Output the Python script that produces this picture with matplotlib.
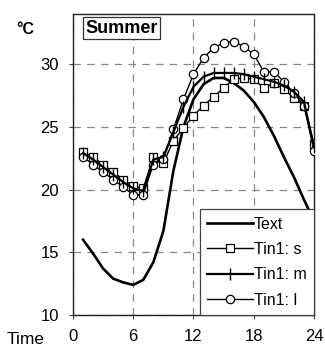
import matplotlib
matplotlib.use('Agg')
import matplotlib.pyplot as plt

plt.rcParams['font.family'] = ['Liberation Sans', 'DejaVu Sans']

# hourly temperatures, summer day
hours = list(range(1, 25))
t_ext = [16.0, 14.9, 13.7, 12.9, 12.6, 12.4, 12.8, 14.2, 16.7, 21.5, 25.0, 27.2,
         28.4, 28.9, 28.9, 28.5, 27.9, 27.0, 25.8, 24.3, 22.6, 21.0, 19.2, 17.5]
tin_s = [23.0, 22.6, 22.0, 21.4, 20.8, 20.3, 20.1, 22.6, 22.1, 23.9, 24.9, 25.9,
         26.7, 27.4, 28.1, 28.8, 28.9, 28.8, 28.1, 28.5, 28.0, 27.3, 26.7, 23.6]
tin_m = [22.9, 22.4, 21.8, 21.2, 20.6, 20.1, 19.9, 22.4, 22.6, 24.6, 26.6, 28.2,
         29.0, 29.3, 29.3, 29.3, 29.2, 29.0, 28.8, 28.6, 28.3, 27.8, 27.0, 23.4]
tin_l = [22.6, 22.0, 21.4, 20.8, 20.2, 19.6, 19.6, 22.0, 22.4, 24.8, 27.2, 29.2,
         30.5, 31.3, 31.7, 31.8, 31.4, 30.8, 29.4, 29.4, 28.6, 27.7, 26.7, 23.1]

x_ticks = [0, 6, 12, 18, 24]
y_ticks = [10, 15, 20, 25, 30]

fig = plt.figure(figsize=(3.25, 3.5), dpi=100)
ax = fig.add_axes([0.2246, 0.1, 0.7415, 0.86])

ax.plot(hours, t_ext, color='black', lw=1.9, label='Text', zorder=3)
ax.plot(hours, tin_s, color='black', lw=1.0, marker='s', ms=6, mfc='white',
        mec='black', mew=0.9, label='Tin1: s', zorder=4)
ax.plot(hours, tin_m, color='black', lw=1.6, marker='|', ms=9, mew=1.0,
        label='Tin1: m', zorder=5)
ax.plot(hours, tin_l, color='black', lw=1.0, marker='o', ms=6, mfc='white',
        mec='black', mew=0.9, label='Tin1: l', zorder=4)

ax.set_xlim(0, 24)
ax.set_ylim(10, 34)
ax.set_xticks(x_ticks)
ax.set_yticks(y_ticks)
ax.tick_params(labelsize=12, length=3, width=0.8, color='#444444')
ax.tick_params(axis='x', pad=7)
ax.tick_params(axis='y', pad=7)
ax.grid(True, color='#888888', linestyle=(0, (6, 5)), linewidth=0.9)
for s in ax.spines.values():
    s.set_color('#222222')
    s.set_linewidth(1.0)

ax.text(0.2, 0.953, 'Summer', transform=ax.transAxes, ha='center', va='center',
        fontsize=13, fontweight='bold',
        bbox=dict(boxstyle='square,pad=0.12', fc='white', ec='#333333', lw=0.9))

leg = ax.legend(loc='lower right', bbox_to_anchor=(1.0, 0.0), borderaxespad=0,
                fontsize=11.5, handlelength=2.9, handletextpad=0.05,
                labelspacing=0.65, fancybox=False, framealpha=1,
                edgecolor='#444444', borderpad=0.45)
leg.get_frame().set_linewidth(0.9)

fig.text(0.077, 0.917, '°C', fontsize=11.5, fontweight='bold', ha='center', va='center')
fig.text(0.02, 0.031, 'Time', fontsize=12.5, ha='left', va='center')

plt.savefig('out.png', dpi=100)
